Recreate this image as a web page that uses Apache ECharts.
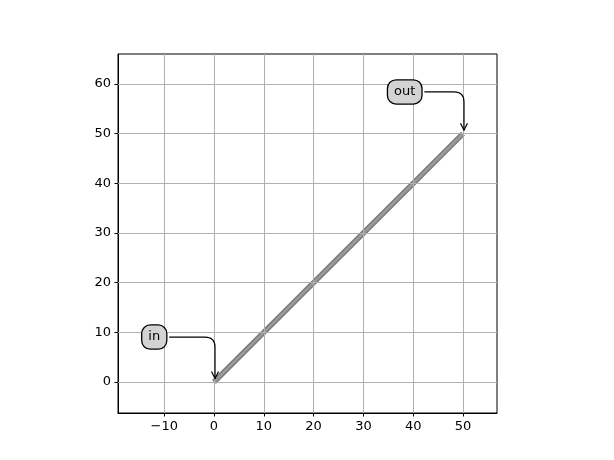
<!DOCTYPE html>
<html><head><meta charset="utf-8">
<script src="https://cdn.jsdelivr.net/npm/echarts@6/dist/echarts.min.js"></script>
<style>html,body{margin:0;padding:0;background:#fff}#c{width:614px;height:460px}</style>
</head><body><div id="c"></div>
<script>
const lineX = [0, 10, 20, 30, 40, 50];
const lineY = [0, 10, 20, 30, 40, 50];
const xTicks = [-10, 0, 10, 20, 30, 40, 50];
const yTicks = [0, 10, 20, 30, 40, 50, 60];
const annLabels = ['in', 'out'];
const annTarget = [[0, 0], [50, 50]];
const annText = [[-12, 9.05], [38.3, 58.4]];

const FONT = '13px "DejaVu Sans"';
const fmt = v => String(v).replace('-', '\u2212');
const cv = document.createElement('canvas').getContext('2d');
cv.font = FONT;

const chart = echarts.init(document.getElementById('c'), null, {renderer: 'canvas'});
const lineData = lineX.map((x, i) => [x, lineY[i]]);
const gridStyle = {color: '#b0b0b0', width: 1, type: 'solid'};

chart.setOption({
  animation: false,
  backgroundColor: '#fff',
  grid: {left: 118, top: 54, width: 379, height: 359, show: true, borderColor: '#000', borderWidth: 1, backgroundColor: 'transparent'},
  xAxis: {
    type: 'value', min: -19.28, max: 56.83,
    axisLine: {show: true, onZero: false, lineStyle: {color: '#000', width: 1}},
    axisTick: {show: true, length: 3.5, customValues: xTicks, lineStyle: {color: '#000'}},
    axisLabel: {customValues: xTicks, formatter: fmt, color: '#000', fontFamily: 'DejaVu Sans', fontSize: 13, margin: 7},
    splitLine: {show: false}
  },
  yAxis: {
    type: 'value', min: -6.24, max: 66.04,
    axisLine: {show: true, onZero: false, lineStyle: {color: '#000', width: 1}},
    axisTick: {show: true, length: 3.5, customValues: yTicks, lineStyle: {color: '#000'}},
    axisLabel: {customValues: yTicks, formatter: fmt, color: '#000', fontFamily: 'DejaVu Sans', fontSize: 13, margin: 7},
    splitLine: {show: false}
  },
  series: [
    {
      type: 'line', data: [], silent: true, z: 1,
      markLine: {
        silent: true, symbol: 'none', label: {show: false}, animation: false,
        lineStyle: gridStyle,
        data: xTicks.map(v => ({xAxis: v})).concat(yTicks.map(v => ({yAxis: v})))
      }
    },
    {
      type: 'line', data: lineData, showSymbol: false, silent: true, z: 3,
      lineStyle: {color: '#7a7a7a', width: 5.5, cap: 'butt'}
    },
    {
      type: 'line', data: lineData, showSymbol: false, silent: true, z: 4,
      lineStyle: {color: '#9a9a9a', width: 2.5, cap: 'butt'}
    },
    {
      type: 'custom', z: 10, silent: true,
      data: annLabels.map((l, i) => [annTarget[i][0], annTarget[i][1], annText[i][0], annText[i][1]]),
      renderItem: function (params, api) {
        const i = params.dataIndex;
        const p = api.coord([api.value(0), api.value(1)]);
        const t = api.coord([api.value(2), api.value(3)]);
        const label = annLabels[i];
        const tw = cv.measureText(label).width;
        const padX = 6;
        const sx = t[0] + tw / 2 + padX + 3;
        const sy = t[1];
        const ex = p[0] + 1;
        const ey = p[1] - 3.5;
        const r = 10;
        const path = `M${sx} ${sy} L${ex - r} ${sy} Q${ex} ${sy} ${ex} ${sy + r} L${ex} ${ey}`;
        const head = `M${ex - 3.5} ${ey - 7} L${ex} ${ey} L${ex + 3.5} ${ey - 7}`;
        return {
          type: 'group',
          children: [
            {type: 'path', shape: {pathData: path}, style: {stroke: '#000', lineWidth: 1.2, fill: null}},
            {type: 'path', shape: {pathData: head}, style: {stroke: '#000', lineWidth: 1.2, fill: null}},
            {type: 'text', x: t[0], y: t[1], style: {
              text: label, font: FONT, fill: '#000', align: 'center', verticalAlign: 'middle',
              backgroundColor: '#d3d3d3', borderColor: '#000', borderWidth: 1.3, borderRadius: 8,
              padding: [5.5, padX, 4.5, padX]
            }}
          ]
        };
      }
    }
  ]
});
</script></body></html>
